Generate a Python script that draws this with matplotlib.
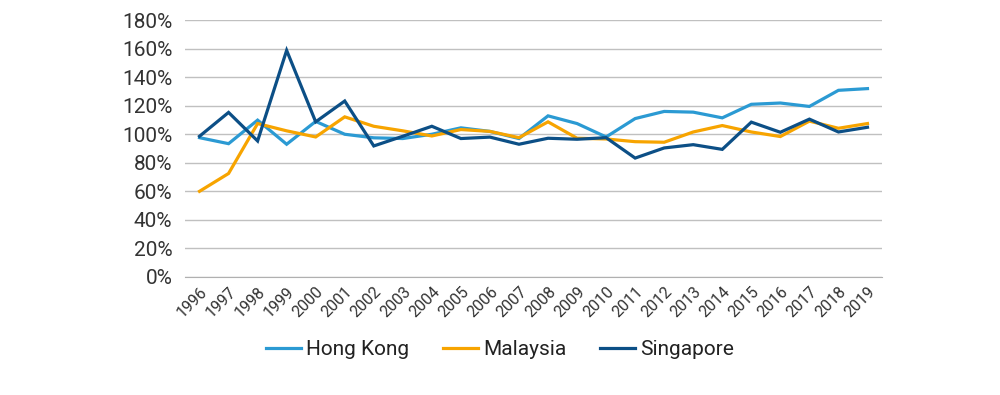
import matplotlib.pyplot as plt
from matplotlib.ticker import FuncFormatter

plt.rcParams['font.family'] = ['Roboto', 'DejaVu Sans']

years = [str(y) for y in range(1996, 2020)]

hong_kong = [97.6, 93.4, 109.9, 93.0, 109.0, 100.0, 97.5, 97.0, 100.0, 104.5, 102.0, 97.0,
             112.9, 107.5, 98.1, 111.0, 116.0, 115.5, 111.5, 121.0, 121.9, 119.5, 130.8, 132.0]
malaysia = [60.0, 72.5, 107.5, 102.4, 98.1, 112.2, 105.6, 102.4, 98.8, 103.3, 102.0, 97.6,
            108.7, 97.2, 96.7, 94.8, 94.4, 101.6, 106.1, 101.6, 98.4, 109.2, 104.2, 107.5]
singapore = [98.6, 115.3, 95.3, 158.8, 108.7, 123.3, 91.8, 98.6, 105.6, 97.0, 98.0, 93.0,
             97.2, 96.5, 97.6, 83.3, 90.4, 92.7, 89.4, 108.5, 101.4, 110.6, 101.6, 104.9]

series = [('Hong Kong', hong_kong, '#2b9ad3'),
          ('Malaysia', malaysia, '#f7a400'),
          ('Singapore', singapore, '#0c4f86')]

fig = plt.figure(figsize=(10, 3.95), dpi=100)
ax = fig.add_axes([0.185, 0.299, 0.697, 0.650])

x = range(len(years))
for name, vals, col in series:
    ax.plot(x, vals, color=col, lw=2.3, label=name, solid_joinstyle='miter')

ax.set_xlim(-0.5, len(years) - 0.5)
ax.set_ylim(0, 180)
ax.set_yticks(range(0, 181, 20))
ax.yaxis.set_major_formatter(FuncFormatter(lambda v, p: f'{int(v)}%'))
ax.set_xticks(list(x))
ax.set_xticklabels(years, rotation=45, ha='right', rotation_mode='anchor', fontsize=11.5, color='#333333')
ax.tick_params(axis='y', length=0, labelsize=15, labelcolor='#333333', pad=9)
ax.tick_params(axis='x', length=0, pad=5)

ax.grid(axis='y', color='#c0c0c0', lw=1)
ax.set_axisbelow(True)
for s in ['top', 'right', 'left']:
    ax.spines[s].set_visible(False)
ax.spines['bottom'].set_color('#b0b0b0')

fig.legend(loc='center', bbox_to_anchor=(0.5, 0.114), ncol=3, frameon=False,
           fontsize=15, handlelength=1.7, handletextpad=0.25, columnspacing=1.6,
           labelcolor='#222222')

fig.savefig('out.png', dpi=100)
